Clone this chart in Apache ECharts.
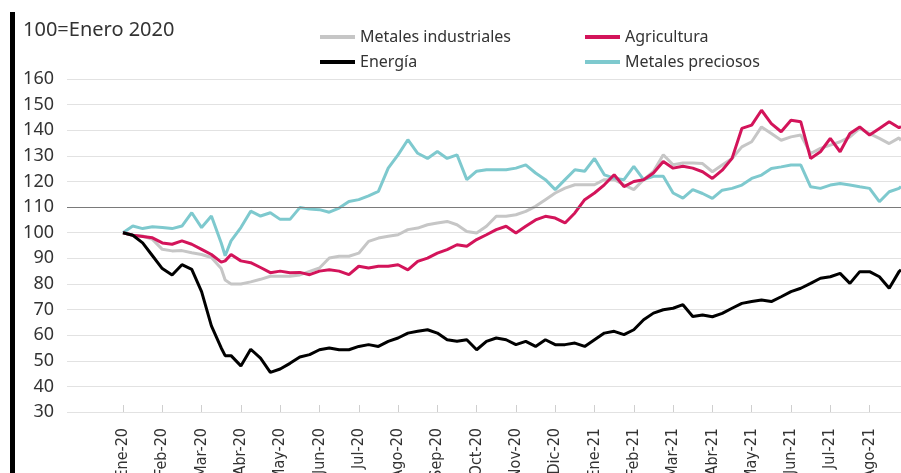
<!DOCTYPE html>
<html>
<head>
<meta charset="utf-8">
<script src="https://cdn.jsdelivr.net/npm/echarts@6/dist/echarts.min.js"></script>
<style>html,body{margin:0;padding:0;background:#fff}#c{width:901px;height:473px}</style>
</head>
<body>
<div id="c"></div>
<script>
// month positions (0 = Ene-20)
const t = [0,0.25,0.5,0.75,1,1.25,1.5,1.75,2,2.25,2.5,2.6,2.75,3,3.25,3.5,3.75,4,4.25,4.5,4.75,5,5.25,5.5,5.75,6,6.25,6.5,6.75,7,7.25,7.5,7.75,8,8.25,8.5,8.75,9,9.25,9.5,9.75,10,10.25,10.5,10.75,11,11.25,11.5,11.75,12,12.25,12.5,12.75,13,13.25,13.5,13.75,14,14.25,14.5,14.75,15,15.25,15.5,15.75,16,16.25,16.5,16.75,17,17.25,17.5,17.75,18,18.25,18.5,18.75,19,19.25,19.5,19.75,19.8];
const energia = [100,99,96,91,86,83.5,87.5,85.7,77,63.6,55,52,52,48,54.5,51,45.5,46.8,49,51.5,52.4,54.3,55,54.3,54.3,55.6,56.3,55.6,57.6,58.9,60.8,61.5,62.1,60.8,58.2,57.6,58.2,54.3,57.6,58.9,58.2,56.3,57.6,55.6,58.2,56.3,56.3,56.9,55.6,58.2,60.8,61.5,60.2,62.1,66,68.6,69.9,70.5,71.9,67.3,67.9,67.2,68.5,70.5,72.4,73.1,73.7,73.1,75,77,78.3,80.2,82.2,82.8,84.1,80.2,84.8,84.8,82.8,78.3,84.8,85.5];
const agricultura = [100,99,98.5,98,96,95.5,96.8,95.5,93.5,91.5,88.5,89,91.5,89,88.3,86.4,84.4,85,84.4,84.5,83.6,85,85.5,85,83.6,86.9,86.2,86.9,86.9,87.5,85.5,88.8,90.1,92,93.4,95.3,94.7,97.3,99.2,101.2,102.5,99.9,102.5,105,106.4,105.7,103.8,107.7,112.9,115.5,118.7,122.6,118,120,120.7,123.3,127.8,125.2,125.9,125.2,123.8,121.2,124.4,129,140.7,142,147.8,142.6,139.4,143.9,143.3,129,131.6,136.8,131.6,138.7,141.3,138.1,140.7,143.3,141,141.5];
const industriales = [100,99,98.7,97.4,93.5,92.9,93,92.2,91.5,90.3,86,81.5,80,80,80.8,81.8,83,83,83,83.5,84.9,86.2,90.1,90.8,90.8,92,96.6,97.9,98.6,99.2,101.2,101.8,103.1,103.8,104.4,103.1,100.5,99.9,102.5,106.4,106.4,107,108.3,110.3,112.9,115.5,117.4,118.7,118.7,118.7,120.7,120.7,118.7,116.8,120.7,123.9,130.4,126.5,127.2,127.2,127,123.8,126.4,129,133.5,135.5,141.3,138.7,136.1,137.4,138.1,130.9,132.9,134.2,135.5,137.4,140.7,138.7,136.8,134.8,137,136];
const preciosos = [100,102.6,101.6,102.3,102,101.6,102.6,107.8,102,106.5,96,91,96.8,102,108.4,106.5,107.8,105.2,105.2,109.8,109.2,109,108,109.6,112.2,112.9,114.4,116.1,125.2,130.4,136.3,131,129,131.7,129,130.4,120.7,124,124.6,124.6,124.6,125.2,126.5,123.3,120.7,116.8,120.7,124.6,124,129,122.6,121.3,120.7,125.9,120.7,122,122,115.5,113.5,116.8,115.3,113.4,116.6,117.3,118.6,121.2,122.5,125.1,125.7,126.4,126.4,117.9,117.3,118.6,119.2,118.6,117.9,117.3,112.1,116,117.3,118];
const monthLabels = ['Ene-20','Feb-20','Mar-20','Abr-20','May-20','Jun-20','Jul-20','Ago-20','Sep-20','Oct-20','Nov-20','Dic-20','Ene-21','Feb-21','Mar-21','Abr-21','May-21','Jun-21','Jul-21','Ago-21'];
const monthTicks = monthLabels.map((_, i) => i);

const pair = arr => arr.map((v, i) => [t[i], v]);
const font = "'Noto Sans', 'Open Sans', sans-serif";
const narrow = "'Liberation Sans Narrow', 'DejaVu Sans Condensed', sans-serif";

const chart = echarts.init(document.getElementById('c'), null, {renderer: 'canvas'});
chart.setOption({
  animation: false,
  backgroundColor: '#fff',
  graphic: [
    {type: 'rect', left: 10, top: 12, shape: {width: 5, height: 461}, style: {fill: '#000'}},
    {type: 'text', left: 23, top: 20, style: {text: '100=Enero 2020', font: '20px ' + font, fill: '#333'}}
  ],
  legend: [
    {orient: 'vertical', left: 315, top: 22, icon: 'rect', itemWidth: 35, itemHeight: 4, itemGap: 5,
     textStyle: {fontSize: 16, fontFamily: font, color: '#333', lineHeight: 20},
     data: ['Metales industriales', 'Energía']},
    {orient: 'vertical', left: 580, top: 22, icon: 'rect', itemWidth: 35, itemHeight: 4, itemGap: 5,
     textStyle: {fontSize: 16, fontFamily: font, color: '#333', lineHeight: 20},
     data: ['Agricultura', 'Metales preciosos']}
  ],
  grid: {left: 67, right: 0, top: 79, bottom: 61, containLabel: false, outerBoundsMode: 'none'},
  xAxis: {
    type: 'value', min: -1.425, max: 19.8,
    axisLine: {show: false},
    splitLine: {show: false},
    axisTick: {show: true, inside: true, length: 7, customValues: monthTicks, lineStyle: {color: '#cfcfcf'}},
    axisLabel: {customValues: monthTicks, rotate: 90, margin: 16, fontSize: 16, fontFamily: narrow, color: '#333',
      formatter: v => monthLabels[Math.round(v)] || ''}
  },
  yAxis: {
    type: 'value', min: 30, max: 160, interval: 10,
    axisLine: {show: false}, axisTick: {show: false},
    splitLine: {lineStyle: {color: '#e2e2e2', width: 1}},
    axisLabel: {fontSize: 18, fontFamily: font, color: '#333', margin: 13}
  },
  series: [
    {name: 'Metales industriales', type: 'line', symbol: 'none', data: pair(industriales),
     itemStyle: {color: '#c6c6c6'}, lineStyle: {color: '#c6c6c6', width: 3}, z: 2},
    {name: 'Metales preciosos', type: 'line', symbol: 'none', data: pair(preciosos),
     itemStyle: {color: '#7ec9ce'}, lineStyle: {color: '#7ec9ce', width: 3}, z: 3,
     markLine: {silent: true, symbol: 'none', label: {show: false}, lineStyle: {color: '#7a7a7a', width: 1.2, type: 'solid'},
       data: [{yAxis: 110}]}},
    {name: 'Agricultura', type: 'line', symbol: 'none', data: pair(agricultura),
     itemStyle: {color: '#d3145a'}, lineStyle: {color: '#d3145a', width: 3}, z: 4},
    {name: 'Energía', type: 'line', symbol: 'none', data: pair(energia),
     itemStyle: {color: '#000'}, lineStyle: {color: '#000', width: 3}, z: 5}
  ]
});
</script>
</body>
</html>
